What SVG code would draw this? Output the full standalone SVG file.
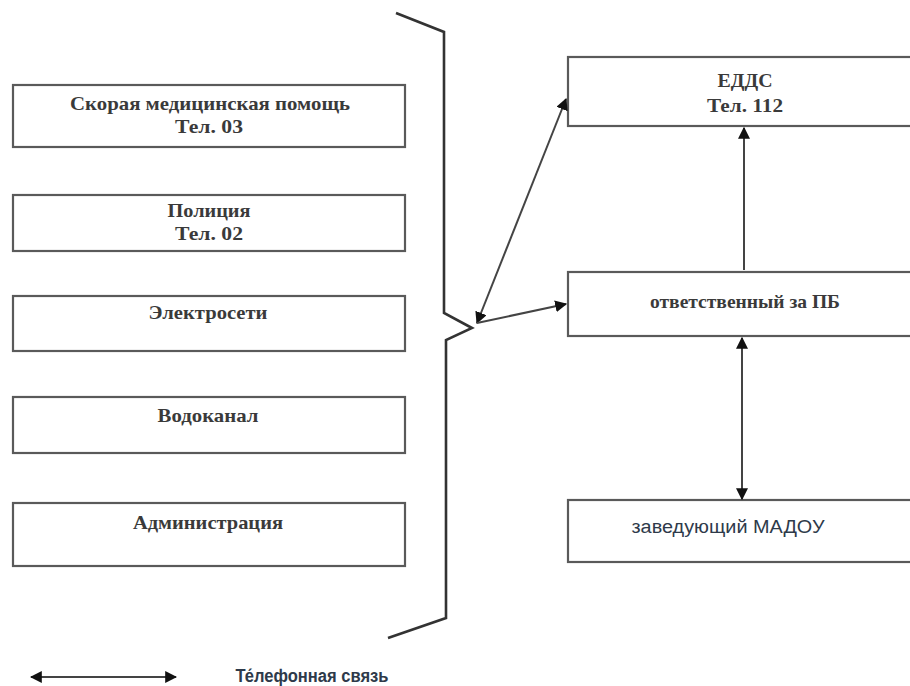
<svg xmlns="http://www.w3.org/2000/svg" width="910" height="686" viewBox="0 0 910 686">
<style>
.box{fill:#fff;stroke:#5a5a5a;stroke-width:2.2}
.t{font-family:"Liberation Serif","Times New Roman",serif;font-size:19px;font-weight:bold;fill:#3a3a3a;text-anchor:middle}
.s{font-family:"Liberation Sans",Arial,sans-serif;font-size:18px;fill:#2e3a4a;text-anchor:middle}
.c{fill:none;stroke:#444;stroke-width:2}
</style>
<defs>
<marker id="ah" viewBox="0 0 10 10" refX="9" refY="5" markerWidth="6" markerHeight="6" orient="auto-start-reverse" markerUnits="strokeWidth">
<path d="M0,0 L10,5 L0,10 z" fill="#111"/>
</marker>
</defs>
<rect width="910" height="686" fill="#fff"/>
<g id="n1"><rect class="box" x="13" y="85" width="392" height="62"/><text class="t" x="210" y="110" textLength="280" lengthAdjust="spacingAndGlyphs">Скорая медицинская помощь</text><text class="t" x="209" y="133" textLength="68" lengthAdjust="spacingAndGlyphs">Тел. 03</text></g>
<g id="n2"><rect class="box" x="13" y="195" width="392" height="56"/><text class="t" x="209" y="217" textLength="83" lengthAdjust="spacingAndGlyphs">Полиция</text><text class="t" x="209" y="240" textLength="68" lengthAdjust="spacingAndGlyphs">Тел. 02</text></g>
<g id="n3"><rect class="box" x="13" y="296" width="392" height="55"/><text class="t" x="208" y="319" textLength="119" lengthAdjust="spacingAndGlyphs">Электросети</text></g>
<g id="n4"><rect class="box" x="13" y="397" width="392" height="56"/><text class="t" x="208" y="422" textLength="101" lengthAdjust="spacingAndGlyphs">Водоканал</text></g>
<g id="n5"><rect class="box" x="13" y="503" width="392" height="63"/><text class="t" x="208" y="529" textLength="150" lengthAdjust="spacingAndGlyphs">Администрация</text></g>
<g id="n6"><rect class="box" x="568" y="57" width="360" height="69"/><text class="t" x="745" y="87" textLength="55" lengthAdjust="spacingAndGlyphs">ЕДДС</text><text class="t" x="745" y="112" textLength="76" lengthAdjust="spacingAndGlyphs">Тел. 112</text></g>
<g id="n7"><rect class="box" x="568" y="272" width="360" height="64"/><text class="t" x="745" y="308" textLength="190" lengthAdjust="spacingAndGlyphs">ответственный за ПБ</text></g>
<g id="n8"><rect class="box" x="568" y="500" width="360" height="62"/><text class="s" x="728" y="533" textLength="193" lengthAdjust="spacingAndGlyphs">заведующий МАДОУ</text></g>
<g id="brace"><path d="M396,13 L444,32 L444,313 L472,328 L446,340 L446,618 L388,638" fill="none" stroke="#333" stroke-width="2.6" stroke-linejoin="miter"/></g>
<g id="connectors">
<line class="c" x1="477" y1="323" x2="566" y2="99" marker-start="url(#ah)" marker-end="url(#ah)"/>
<line class="c" x1="477" y1="323" x2="566" y2="304" marker-end="url(#ah)"/>
<line class="c" x1="744" y1="270" x2="744" y2="128" marker-end="url(#ah)"/>
<line class="c" x1="742" y1="338" x2="742" y2="499" marker-start="url(#ah)" marker-end="url(#ah)"/>
</g>
<g id="legend">
<line class="c" x1="31" y1="677" x2="176" y2="677" stroke-width="2.4" marker-start="url(#ah)" marker-end="url(#ah)"/>
<text class="s" x="312" y="682" font-size="16" font-weight="bold" fill="#3a4858" textLength="153" lengthAdjust="spacingAndGlyphs">Те́лефонная связь</text>
</g>
</svg>
